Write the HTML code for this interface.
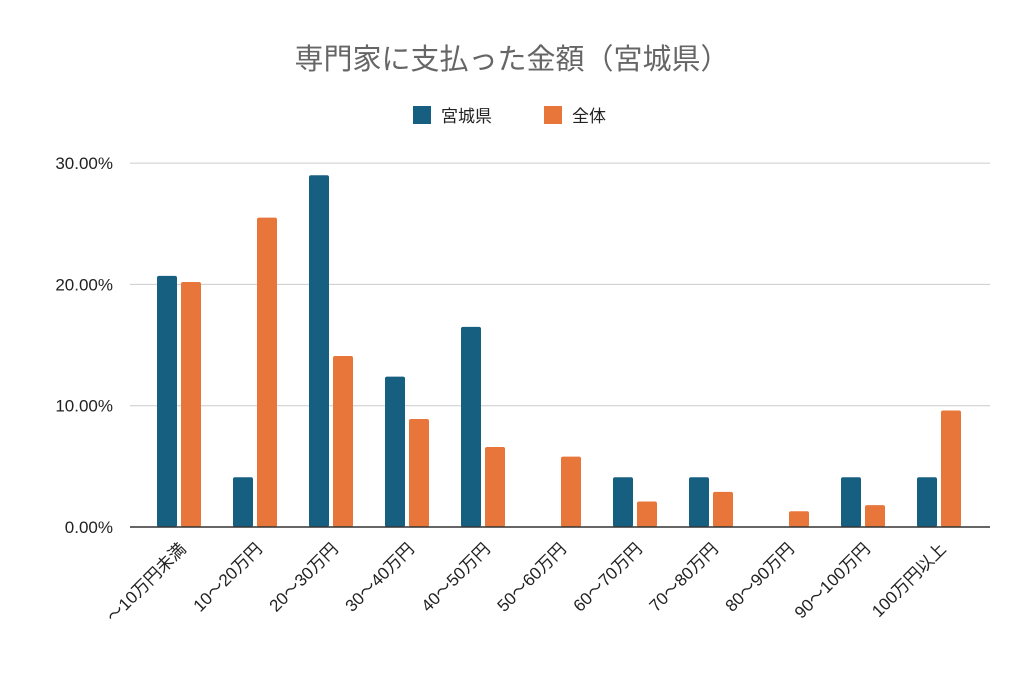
<!DOCTYPE html>
<html><head><meta charset="utf-8"><style>
body{margin:0;background:#fff;}
svg text{font-family:"Liberation Sans","Noto Sans CJK JP",sans-serif;}
</style></head><body>
<svg id="chart" width="1024" height="673">
<text x="512" y="69" text-anchor="middle" font-size="29" fill="#666">専門家に支払った金額（宮城県）</text>
<g>
<rect x="413" y="106" width="18" height="18" fill="#175f80"/>
<text x="441" y="122" font-size="17" fill="#222">宮城県</text>
<rect x="544" y="106" width="18" height="18" fill="#e8763a"/>
<text x="572" y="122" font-size="17" fill="#222">全体</text>
</g>
<g id="plot"></g>
</svg>
<script>
const categories=["～10万円未満","10～20万円","20～30万円","30～40万円","40～50万円","50～60万円","60～70万円","70～80万円","80～90万円","90～100万円","100万円以上"];
const miyagi=[20.7,4.1,29.0,12.4,16.5,0,4.1,4.1,0,4.1,4.1];
const total=[20.2,25.5,14.1,8.9,6.6,5.8,2.1,2.9,1.3,1.8,9.6];
const yTicks=[0,10,20,30];
const yTickLabels=["0.00%","10.00%","20.00%","30.00%"];
const NS="http://www.w3.org/2000/svg";
const g=document.getElementById('plot');
const x0=141,x1=990,y0=527,pxPer=12.13;
const y=v=>y0-v*pxPer;
const gw=76;
const xc=i=>x0+gw*(i+0.5);
function mk(t,a){const e=document.createElementNS(NS,t);for(const k in a)e.setAttribute(k,a[k]);g.appendChild(e);return e;}
yTicks.forEach((t,i)=>{
 if(t>0){const l=mk('line',{x1:130,x2:x1,y1:y(t),y2:y(t),stroke:'#ccc','stroke-width':1});
 
 }
 const tx=mk('text',{x:113,y:y(t)+6,'text-anchor':'end','font-size':17,fill:'#222'});tx.textContent=yTickLabels[i];
 
 
});
categories.forEach((c,i)=>{
 const b1=mk('rect',{x:xc(i)-22,y:y(miyagi[i]),width:20,height:miyagi[i]*pxPer,fill:'#175f80',rx:2});
 
 
 const b2=mk('rect',{x:xc(i)+2,y:y(total[i]),width:20,height:total[i]*pxPer,fill:'#e8763a',rx:2});
 
 
 const t=mk('text',{x:xc(i)+8,y:550,'text-anchor':'end','font-size':17,fill:'#222',transform:`rotate(-45 ${xc(i)+8} 550)`});
 t.textContent=c;
 
 
});
const ax=mk('line',{x1:130,x2:x1,y1:y0,y2:y0,stroke:'#333','stroke-width':1.5});


</script>
</body></html>
